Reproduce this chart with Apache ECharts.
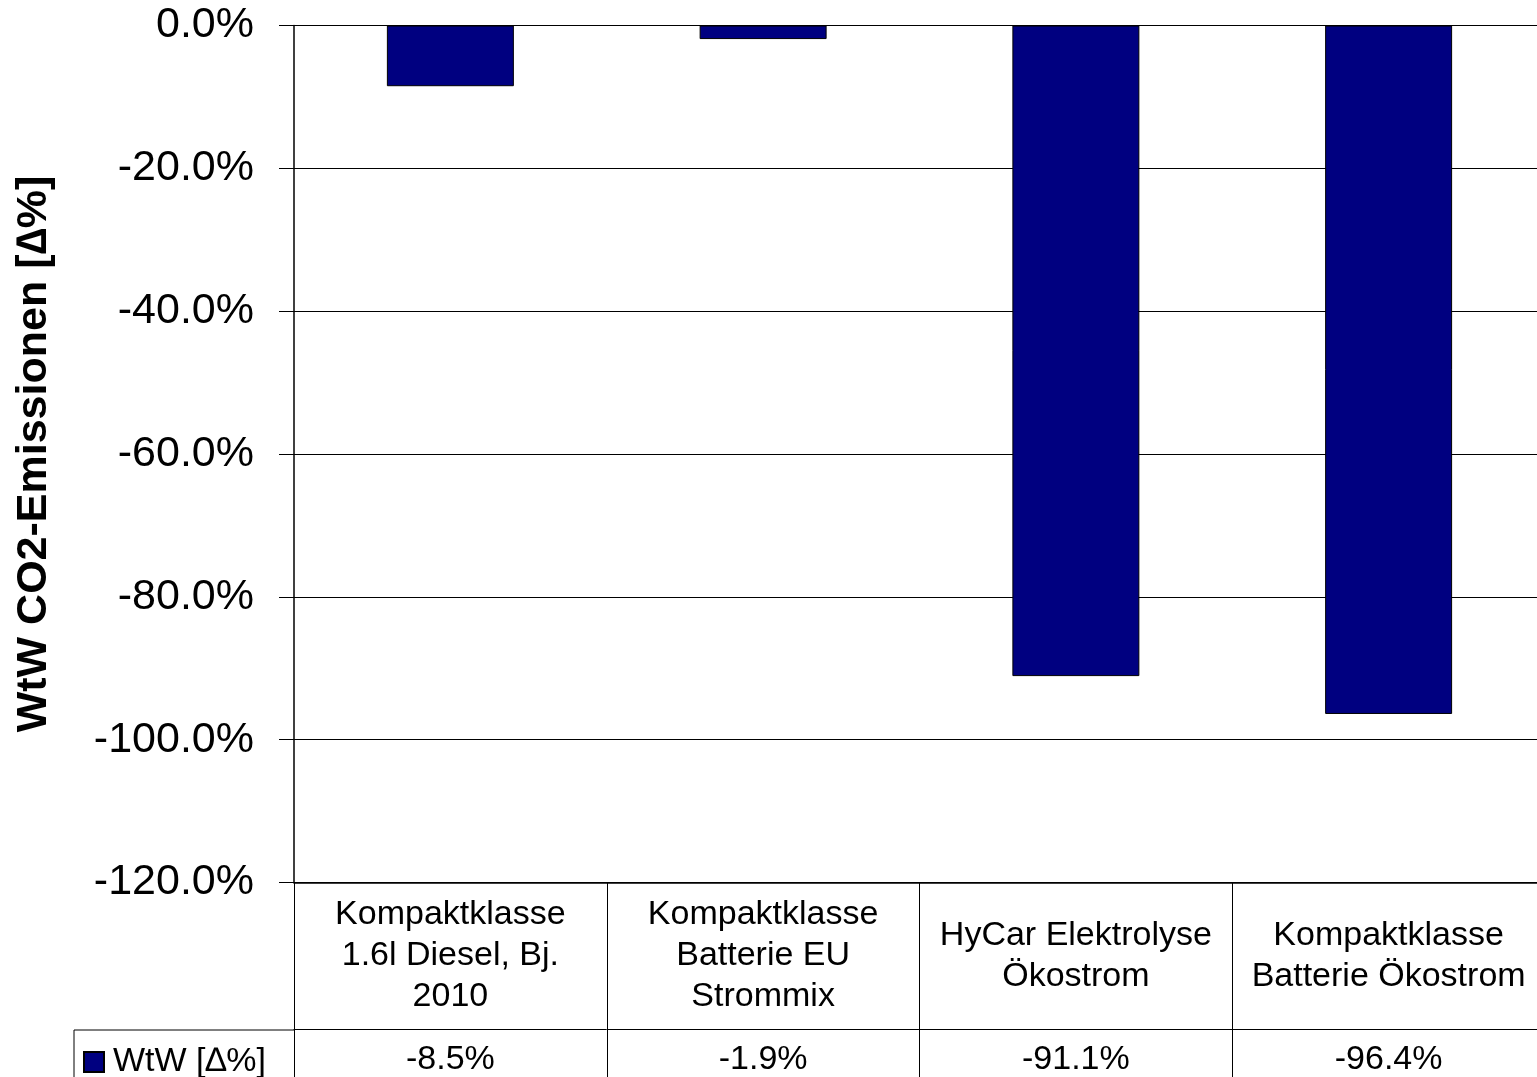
<!DOCTYPE html>
<html>
<head>
<meta charset="utf-8">
<script src="https://cdn.jsdelivr.net/npm/echarts@6/dist/echarts.min.js"></script>
<style>
html,body{margin:0;padding:0;background:#fff;overflow:hidden;width:1537px;height:1077px;}
#chart{width:1545px;height:1077px;}
</style>
</head>
<body>
<div id="chart"></div>
<script>
const categories = [
  "Kompaktklasse\n1.6l Diesel, Bj.\n2010",
  "Kompaktklasse\nBatterie EU\nStrommix",
  "HyCar Elektrolyse\nÖkostrom",
  "Kompaktklasse\nBatterie Ökostrom"
];
const seriesName = "WtW [∆%]";
const values = [-8.5, -1.9, -91.1, -96.4];
const yTicks = { min: -120, max: 0, interval: 20 };
const yTitle = "WtW CO2-Emissionen [∆%]";

const FONT = "'Liberation Sans', Arial, sans-serif";
const chart = echarts.init(document.getElementById('chart'), null, { renderer: 'canvas' });

chart.setOption({
  backgroundColor: '#fff',
  animation: false,
  textStyle: { fontFamily: FONT, color: '#000' },
  grid: { left: 294, right: 0, top: 25.5, height: 858, containLabel: false },
  legend: {
    data: [seriesName],
    left: 83, top: 1045, padding: 0,
    icon: 'rect', itemWidth: 20, itemHeight: 20, itemGap: 0,
    textStyle: { fontFamily: FONT, fontSize: 34, color: '#000', lineHeight: 34, padding: [0, 0, 0, 4] }
  },
  xAxis: [
    {
      type: 'category',
      data: categories,
      position: 'bottom',
      axisLine: { show: true, onZero: false, lineStyle: { color: '#000', width: 1.5 } },
      axisTick: { show: true, alignWithLabel: false, length: 200, lineStyle: { color: '#000', width: 1 } },
      axisLabel: {
        interval: 0, margin: 73.5, verticalAlign: 'middle',
        fontFamily: FONT, fontSize: 34, lineHeight: 41, color: '#000', align: 'center'
      },
      splitLine: { show: false }
    },
    {
      type: 'category',
      data: categories,
      position: 'bottom',
      offset: 146.5,
      axisLine: { show: true, onZero: false, lineStyle: { color: '#000', width: 1 } },
      axisTick: { show: false },
      axisLabel: {
        interval: 0, margin: 31, verticalAlign: 'middle',
        fontFamily: FONT, fontSize: 34, color: '#000',
        formatter: (v, i) => values[i].toFixed(1) + '%'
      },
      splitLine: { show: false }
    }
  ],
  yAxis: {
    type: 'value',
    min: yTicks.min, max: yTicks.max, interval: yTicks.interval,
    name: yTitle,
    nameLocation: 'middle',
    nameRotate: 90,
    nameGap: 238,
    nameTextStyle: { fontFamily: FONT, fontSize: 43, fontWeight: 'bold', color: '#000' },
    axisLine: { show: true, lineStyle: { color: '#000', width: 1.5 } },
    axisTick: { show: true, length: 15, lineStyle: { color: '#000', width: 1 } },
    axisLabel: {
      margin: 40, fontFamily: FONT, fontSize: 43, color: '#000',
      formatter: v => v.toFixed(1) + '%'
    },
    splitLine: { show: true, lineStyle: { color: '#000', width: 1.2 } }
  },
  graphic: [
    { type: 'line', shape: { x1: 74, y1: 1030, x2: 294, y2: 1030 }, style: { stroke: '#000', lineWidth: 1 } },
    { type: 'line', shape: { x1: 74, y1: 1030, x2: 74, y2: 1080 }, style: { stroke: '#000', lineWidth: 1 } }
  ],
  series: [{
    name: seriesName,
    type: 'bar',
    xAxisIndex: 0,
    data: values,
    barWidth: '40.6%',
    itemStyle: { color: '#000080', borderColor: '#000', borderWidth: 1 }
  }]
});
</script>
</body>
</html>
